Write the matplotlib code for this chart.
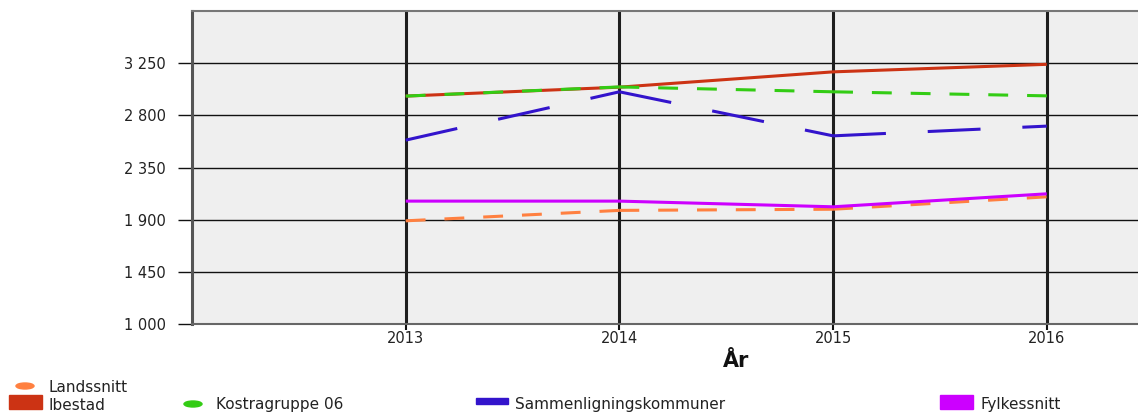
import matplotlib
matplotlib.use("Agg")
import matplotlib.pyplot as plt
from matplotlib.patches import Ellipse, Rectangle

# values per year, kr
years = [2013, 2014, 2015, 2016]
landssnitt = [1890, 1980, 1990, 2097]
ibestad = [2966, 3043, 3175, 3240]
kostragruppe = [2966, 3045, 3003, 2968]
sammenligning = [2586, 3003, 2623, 2707]
fylkessnitt = [2060, 2060, 2011, 2123]

y_ticks = [1000, 1450, 1900, 2350, 2800, 3250]
y_labels = ["1 000", "1 450", "1 900", "2 350", "2 800", "3 250"]

W, H = 1138, 412
fig = plt.figure(figsize=(W / 100, H / 100), dpi=100)
fig.patch.set_facecolor("white")
ax = fig.add_axes([192 / W, 88 / H, (W - 192) / W, 313 / H])
ax.set_facecolor("#efefef")

# one entry per series: name, values, colour, dash pattern (None = solid), legend key
series = [
    ("Landssnitt", landssnitt, "#ff8040", (0, (6.5, 6.2)), "dot"),
    ("Ibestad", ibestad, "#cc3314", None, "box"),
    ("Kostragruppe 06", kostragruppe, "#33cc14", (0, (6.5, 6.2)), "dot"),
    ("Sammenligningskommuner", sammenligning, "#3314cc", (0, (17.3, 13.7)), "bar"),
    ("Fylkessnitt", fylkessnitt, "#cc00ff", None, "box"),
]

for i, (name, vals, col, dash, key) in enumerate(series):
    if dash is None:
        ax.plot(years, vals, color=col, lw=2.2, zorder=3 + i,
                solid_capstyle="butt")
    else:
        # the dash pattern starts over at every year
        for k in range(len(years) - 1):
            ax.plot(years[k:k + 2], vals[k:k + 2], color=col, lw=2.2,
                    linestyle=dash, zorder=3 + i, dash_capstyle="butt")

ax.set_xlim(2012, 2012 + (W - 192) / 213.7)
ax.set_ylim(1000, 3700)
ax.set_xticks(years)
ax.set_xticklabels([str(y) for y in years], fontsize=10.5, color="#222222")
ax.set_yticks(y_ticks)
ax.set_yticklabels(y_labels, fontsize=10.5, color="#222222")

ax.tick_params(axis="y", length=10, width=1.0, color="#111111", pad=9)
ax.tick_params(axis="x", length=4.5, width=1.5, color="#111111", pad=0.5)

for v in y_ticks[1:]:
    ax.axhline(v, color="#111111", lw=1.0, zorder=1)
for yr in years:
    ax.axvline(yr, color="#1e1e1e", lw=2.2, zorder=2)

ax.spines["right"].set_visible(False)
ax.spines["top"].set_color("#777777")
ax.spines["top"].set_linewidth(1.5)
ax.spines["left"].set_color("#555555")
ax.spines["left"].set_linewidth(2.2)
ax.spines["bottom"].set_color("#666666")
ax.spines["bottom"].set_linewidth(1.5)

fig.text(736 / W, 1 - 361 / H, "År", fontsize=15, fontweight="bold",
         ha="center", va="center", color="#111111")

# legend, laid out in pixels from the top-left corner
def px(x, y):
    return x / W, 1 - y / H

legend_pos = {
    "Landssnitt": ((25, 386), 48),
    "Ibestad": ((25, 402), 48),
    "Kostragruppe 06": ((193, 404), 216),
    "Sammenligningskommuner": ((492, 401), 515),
    "Fylkessnitt": ((956, 402), 980),
}

for name, vals, col, dash, key in series:
    (cx, cy), tx = legend_pos[name]
    if key == "dot":
        fig.patches.append(Ellipse(px(cx, cy), 18 / W, 6 / H, color=col,
                                   transform=fig.transFigure, figure=fig))
    elif key == "bar":
        x0, y0 = px(cx - 16, cy + 3)
        fig.patches.append(Rectangle((x0, y0), 32 / W, 6 / H, color=col,
                                     transform=fig.transFigure, figure=fig))
    else:
        x0, y0 = px(cx - 16, cy + 7)
        fig.patches.append(Rectangle((x0, y0), 33 / W, 14 / H, color=col,
                                     transform=fig.transFigure, figure=fig))
    ty = 387 if name == "Landssnitt" else 405
    fig.text(tx / W, 1 - ty / H, name, fontsize=11, ha="left", va="center",
             color="#222222")

fig.savefig("out.png", dpi=100, facecolor="white")
